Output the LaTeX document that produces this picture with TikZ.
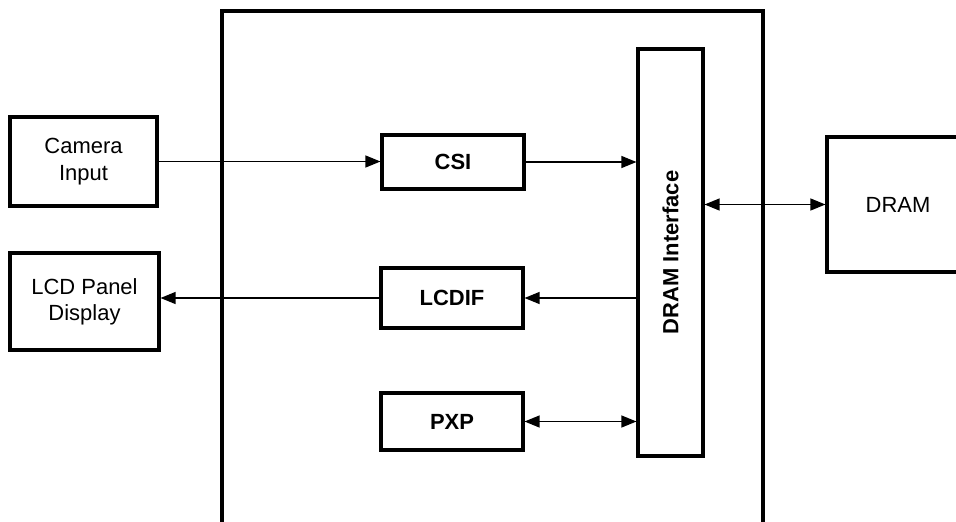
\documentclass[tikz,border=0pt]{standalone}
\usepackage{fontspec}
\setmainfont{Liberation Sans}
\usetikzlibrary{arrows.meta,positioning}
\tikzset{
  block/.style={
    draw,
    line width=1.8pt,
    minimum width=2.84cm,
    align=center,
    font=\fontsize{12.5}{15}\selectfont
  },
  unit/.style={
    block,
    font=\fontsize{12.5}{15}\selectfont\bfseries
  },
  link/.style={-{Triangle[length=0.3cm,width=0.24cm]}, line width=0.7pt},
  duplex/.style={{Triangle[length=0.3cm,width=0.24cm]}-{Triangle[length=0.3cm,width=0.24cm]}, line width=0.7pt}
}

\begin{document}
\begin{tikzpicture}[x=0.02cm, y=-0.02cm]
  \useasboundingbox (0,0) rectangle (956,521);
  \clip (0,0) rectangle (956,521);

  % chip outline, runs off the bottom
  \draw[line width=1.8pt] (222,560) |- (763,11) -- (763,560);

  % outside blocks
  \node[block, minimum width=2.94cm, minimum height=1.78cm] (cam) at (83.5,161.5) {Camera\\Input};
  \node[block, minimum width=2.98cm, minimum height=1.94cm] (lcd) at (84.5,301.5) {LCD Panel\\Display};
  \node[block, minimum height=2.7cm] (dram) at (898,204.5) {DRAM};

  % blocks inside the chip
  \node[unit, minimum height=1.08cm] (csi) at (453,162) {CSI};
  \node[unit, minimum height=1.2cm] (lcdif) at (452,298) {LCDIF};
  \node[unit, minimum height=1.14cm] (pxp) at (452,421.5) {PXP};
  \node[unit, minimum width=1.3cm, minimum height=8.14cm] (dif) at (670.5,252.5) {};
  \node[font=\fontsize{12.5}{15}\selectfont\bfseries, rotate=90] (diflabel) at (dif.center) {DRAM Interface};

  \draw[link] (cam.east) -- (cam.east -| csi.west);
  \draw[link] (csi.east) -- (csi.east -| dif.west);
  \draw[link] (lcdif.east -| dif.west) -- (lcdif.east);
  \draw[link] (lcdif.west) -- (lcdif.west -| lcd.east);
  \draw[duplex] (pxp.east) -- (pxp.east -| dif.west);
  \draw[duplex] (dif.east |- dram.west) -- (dram.west);
\end{tikzpicture}
\end{document}
